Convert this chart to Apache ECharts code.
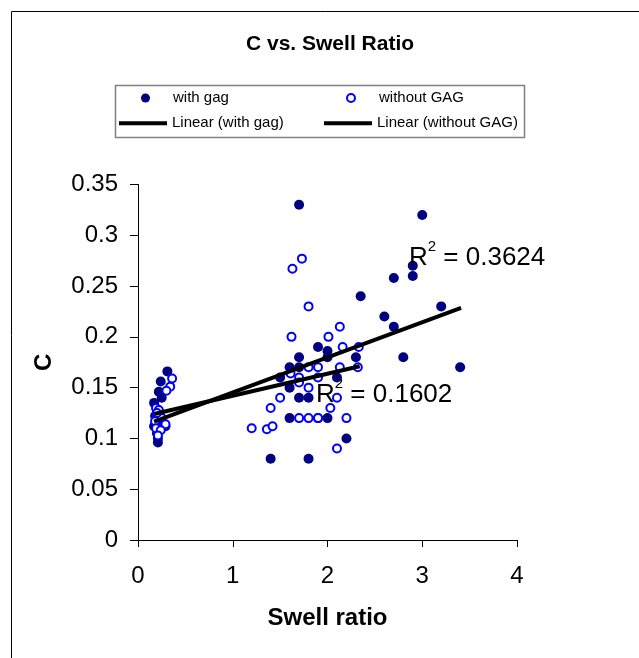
<!DOCTYPE html>
<html>
<head>
<meta charset="utf-8">
<title>C vs. Swell Ratio</title>
<script src="https://cdn.jsdelivr.net/npm/echarts@6/dist/echarts.min.js"></script>
<style>
  html, body { margin: 0; padding: 0; background: #fff; }
  #chart { width: 639px; height: 658px; }
</style>
</head>
<body>
<div id="chart"></div>
<script>
// values
const withGagPoints = [
    [0.31, 0.166], [0.24, 0.156], [0.22, 0.146], [0.25, 0.140], [0.17, 0.135],
    [0.20, 0.128], [0.18, 0.122], [0.21, 0.115], [0.17, 0.112], [0.29, 0.112],
    [0.20, 0.105], [0.21, 0.100], [0.21, 0.096],
    [1.70, 0.330], [3.00, 0.320], [2.90, 0.270], [2.90, 0.260], [2.70, 0.258],
    [2.35, 0.240], [2.60, 0.220], [3.20, 0.230], [2.70, 0.210], [2.80, 0.180],
    [3.40, 0.170], [1.90, 0.190], [2.00, 0.186], [2.00, 0.180], [1.70, 0.180],
    [2.30, 0.180], [1.60, 0.170], [1.70, 0.170], [2.10, 0.160], [1.50, 0.160],
    [1.60, 0.150], [1.70, 0.140], [1.80, 0.140], [1.60, 0.120], [1.90, 0.120],
    [2.00, 0.120], [2.20, 0.100], [1.40, 0.080], [1.80, 0.080]
];
const withoutGagPoints = [
    [0.36, 0.159], [0.34, 0.151], [0.30, 0.147], [0.19, 0.130], [0.22, 0.128],
    [0.25, 0.120], [0.18, 0.117], [0.29, 0.114], [0.19, 0.110], [0.24, 0.108],
    [0.21, 0.103], [0.20, 0.125],
    [1.63, 0.267], [1.73, 0.277], [1.80, 0.230], [1.62, 0.200], [2.01, 0.200],
    [2.13, 0.210], [2.16, 0.190], [2.33, 0.190], [1.90, 0.170], [1.80, 0.170],
    [2.13, 0.170], [2.32, 0.170], [1.61, 0.164], [1.70, 0.160], [1.70, 0.155],
    [1.90, 0.160], [1.80, 0.150], [1.50, 0.140], [2.10, 0.140], [1.40, 0.130],
    [2.03, 0.130], [1.70, 0.120], [1.80, 0.120], [1.90, 0.120], [2.20, 0.120],
    [1.20, 0.110], [1.36, 0.109], [1.42, 0.112], [2.10, 0.090]
];
// trend line end points
const trendWithGag = [[0.17, 0.1165], [3.41, 0.2285]];
const trendWithoutGag = [[0.17, 0.124], [2.34, 0.171]];

const xTickLabels = ['0', '1', '2', '3', '4'];
const yTickLabels = ['0', '0.05', '0.1', '0.15', '0.2', '0.25', '0.3', '0.35'];
const r2WithGag = '0.3624';
const r2WithoutGag = '0.1602';

const FONT = "'Liberation Sans', Arial, sans-serif";

const chart = echarts.init(document.getElementById('chart'));

function legendItem(name, icon, left, top, w, h, itemStyle, textPad) {
    return {
        data: [{ name: name, icon: icon, itemStyle: itemStyle }],
        left: left,
        top: top,
        padding: 0,
        itemWidth: w,
        itemHeight: h,
        selectedMode: false,
        textStyle: { fontSize: 15, fontFamily: FONT, color: '#000', padding: [0, 0, 0, textPad] }
    };
}

// R² label with a raised 2
function r2Label(x, y, value) {
    return {
        type: 'text', x: x, y: y, z: 10,
        style: {
            text: '{r|R}{s|2}{r| = ' + value + '}',
            verticalAlign: 'middle',
            rich: {
                r: { fontSize: 26, lineHeight: 32, verticalAlign: 'bottom', fontFamily: FONT, fill: '#000' },
                s: { fontSize: 15, lineHeight: 16, verticalAlign: 'top', fontFamily: FONT, fill: '#000' }
            }
        }
    };
}

const option = {
    animation: false,
    backgroundColor: '#fff',
    title: {
        text: 'C vs. Swell Ratio',
        left: 246,
        top: 33.5,
        padding: 0,
        textStyle: { fontSize: 21, fontWeight: 'bold', fontFamily: FONT, color: '#000' }
    },
    legend: [
        legendItem('with gag', 'circle', 141, 90.5, 9, 9, { color: '#000080' }, 18),
        legendItem('without GAG', 'circle', 346, 90.5, 8, 8, { color: '#fff', borderColor: '#0000ff', borderWidth: 2 }, 19),
        legendItem('Linear (with gag)', 'rect', 119, 115.8, 48, 4, { color: '#000' }, 0),
        legendItem('Linear (without GAG)', 'rect', 324, 115.8, 48, 4, { color: '#000' }, 0)
    ],
    grid: { left: 138, right: 122, top: 184.5, bottom: 118 },
    xAxis: {
        type: 'value',
        min: 0,
        max: 4,
        interval: 1,
        name: 'Swell ratio',
        nameLocation: 'middle',
        nameGap: 66,
        nameTextStyle: { fontSize: 24, fontWeight: 'bold', fontFamily: FONT, color: '#000' },
        axisLine: { show: true, onZero: false, lineStyle: { color: '#000', width: 1 } },
        axisTick: { show: true, inside: false, length: 7, lineStyle: { color: '#000', width: 1 } },
        splitLine: { show: false },
        axisLabel: {
            fontSize: 24, fontFamily: FONT, color: '#000', margin: 24,
            formatter: function (v) { return xTickLabels[Math.round(v)]; }
        }
    },
    yAxis: {
        type: 'value',
        min: 0,
        max: 0.35,
        interval: 0.05,
        name: 'C',
        nameLocation: 'middle',
        nameGap: 82,
        nameRotate: 90,
        nameTextStyle: { fontSize: 24, fontWeight: 'bold', fontFamily: FONT, color: '#000' },
        axisLine: { show: true, onZero: false, lineStyle: { color: '#000', width: 1 } },
        axisTick: { show: true, inside: false, length: 8, lineStyle: { color: '#000', width: 1 } },
        splitLine: { show: false },
        axisLabel: {
            fontSize: 24, fontFamily: FONT, color: '#000', margin: 20,
            formatter: function (v) { return yTickLabels[Math.round(v / 0.05)]; }
        }
    },
    graphic: [
        // chart frame, runs off the right and bottom edges
        { type: 'rect', shape: { x: 11.5, y: 11.5, width: 700, height: 700 },
          style: { fill: null, stroke: '#000', lineWidth: 1 }, z: -10 },
        // legend box
        { type: 'rect', shape: { x: 115.5, y: 85.5, width: 409, height: 52 },
          style: { fill: null, stroke: '#808080', lineWidth: 1.5 }, z: -5 },
        r2Label(409, 255, r2WithGag),
        r2Label(316, 392, r2WithoutGag)
    ],
    series: [
        {
            name: 'with gag',
            type: 'scatter',
            data: withGagPoints,
            symbol: 'circle',
            symbolSize: 10,
            itemStyle: { color: '#000080', opacity: 1 }
        },
        {
            name: 'without GAG',
            type: 'scatter',
            data: withoutGagPoints,
            symbol: 'circle',
            symbolSize: 8,
            itemStyle: { color: '#fff', borderColor: '#0000ff', borderWidth: 2, opacity: 1 }
        },
        {
            name: 'Linear (with gag)',
            type: 'line',
            data: trendWithGag,
            symbol: 'none',
            silent: true,
            z: 5,
            itemStyle: { color: '#000' },
            lineStyle: { color: '#000', width: 4 }
        },
        {
            name: 'Linear (without GAG)',
            type: 'line',
            data: trendWithoutGag,
            symbol: 'none',
            silent: true,
            z: 5,
            itemStyle: { color: '#000' },
            lineStyle: { color: '#000', width: 4 }
        }
    ]
};

chart.setOption(option);
</script>
</body>
</html>
